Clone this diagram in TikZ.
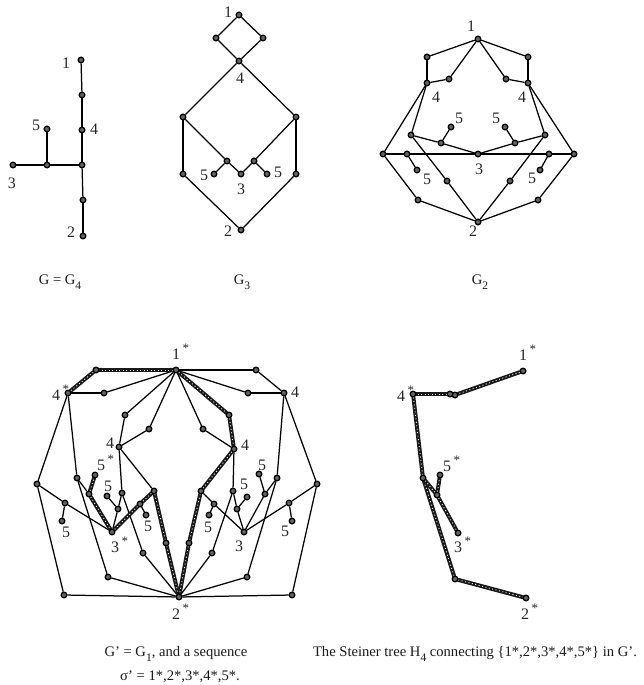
\documentclass[tikz,border=0pt]{standalone}
\usepackage{fontspec}
\setmainfont{Liberation Serif}
\usetikzlibrary{backgrounds}
\newcommand{\st}{\rlap{\raisebox{.42em}{\,\fontsize{13}{13}\selectfont *}}}
\newcommand{\sbs}[1]{\raisebox{-.32em}{\fontsize{11.5}{12}\selectfont #1}}
\tikzset{
  dot/.style={circle,draw=black,fill=black!60,line width=1.3pt,minimum size=5.6pt,inner sep=0pt},
  lab/.style={inner sep=0pt,font=\fontsize{16}{18}\selectfont,text=black!85},
  captxt/.style={inner sep=0pt,font=\fontsize{14.6}{17}\selectfont,text=black!90},
  edge/.style={draw=black,line width=1.25pt},
  heavy/.style={draw=black!90,line width=4pt,line cap=round,postaction={draw=white,line width=.8pt,dash pattern=on 1pt off 2.5pt,line cap=butt}}
}
\begin{document}
\begin{tikzpicture}[x=1pt,y=-1pt]
\useasboundingbox (0,0) rectangle (644,685);
% ---------- G4
\foreach \n/\x/\y in {a1/81/60,aa/82/95,a4/82/130,ac/82/165,ad/83/200,a2/83/236,a3/13/165,am/47/165,a5/47/129}
  \node[dot] (\n) at (\x,\y) {};
\begin{pgfonlayer}{background}
\foreach \p/\q in {a1/aa,aa/a4,a4/ac,ac/ad,ad/a2,a3/am,am/ac,am/a5}
  \draw[edge] (\p) -- (\q);
\end{pgfonlayer}
\foreach \n/\x/\y/\t in {la1/66/63/1,la4/94/129/4,la5/36/125/5,la3/12/183/3,la2/71/232/2}
  \node[lab] (\n) at (\x,\y) {\t};
\node[captxt] (capa) at (60,282) {G = G\sbs{4}};
% ---------- G3
\foreach \n/\x/\y in {b1/239/15,bl/216/38,br/263/38,b4/239/61,bL/183/117,bR/296/117,bp/183/174,bq/296/174,bs/227/161,bt/254/161,b3/241/174,bu/214/174,bv/267/174,b2/241/230}
  \node[dot] (\n) at (\x,\y) {};
\begin{pgfonlayer}{background}
\foreach \p/\q in {b1/bl,b1/br,bl/b4,br/b4,b4/bL,b4/bR,bL/bp,bR/bq,bL/bs,bR/bt,bs/b3,bt/b3,bs/bu,bt/bv,bp/b2,bq/b2}
  \draw[edge] (\p) -- (\q);
\end{pgfonlayer}
\foreach \n/\x/\y/\t in {lb1/228/12/1,lb4/240/78/4,lb5/204/175/5,lb3/241/189/3,lb6/278/172/5,lb2/228/231/2}
  \node[lab] (\n) at (\x,\y) {\t};
\node[captxt] (capb) at (242,282) {G\sbs{3}};
% ---------- G2
\foreach \n/\x/\y in {c1/478/39,cul/427/57,cur/528/57,cum/449/79,cun/506/79,cL/427/83,cR/528/83,ca/411/135,cb/545/135,cc/441/143,cd/515/143,cp/451/127,cq/505/127,c3/478/154,ce/383/154,cf/574/154,cg/407/154,ch/549/154,cr/417/170,cs/540/170,ci/447/181,cj/510/181,ck/418/200,cl/538/200,c2/478/222}
  \node[dot] (\n) at (\x,\y) {};
\begin{pgfonlayer}{background}
\foreach \p/\q in {c1/cul,cul/cL,c1/cum,cum/cL,c1/cun,cun/cR,c1/cur,cur/cR,cL/ca,cR/cb,cL/ce,cR/cf,ca/cc,cc/c3,c3/cd,cd/cb,cc/cp,cd/cq,ce/cg,cg/c3,c3/ch,ch/cf,cg/cr,ch/cs,ca/ci,ci/c2,cb/cj,cj/c2,ce/ck,ck/c2,cf/cl,cl/c2}
  \draw[edge] (\p) -- (\q);
\end{pgfonlayer}
\foreach \n/\x/\y/\t in {lc1/471/26/1,lc4/436/97/4,lc6/522/97/4,lc5/459/118/5,lc7/496/118/5,lc3/479/169/3,lc8/427/179/5,lc9/532/178/5,lc2/473/231/2}
  \node[lab] (\n) at (\x,\y) {\t};
\node[captxt] (capc) at (480,282) {G\sbs{2}};
% ---------- G'
\foreach \n/\x/\y in {g1/176/370,gA/96/370,gB/256/370,g4/68/393,gC/104/393,gD/248/393,gE/284/393,gF/125/415,gG/149/429,gH/203/429,gJ/229/415,gK/119/447,gM/234/449,gI/37/484,gN/317/484,gO/77/478,gL/277/478,gs/95/475,gP/89/494,gQ/65/503,gR/289/503,gu/62/521,gv/292/521,g3/112/532,gT/244/532,gU/122/493,gV/118/509,gw/107/496,gW/154/491,gS/201/491,gX/140/504,gx/146/515,gY/214/504,gy/209/515,gZ/233/491,gz/237/509,gq/247/497,gaa/265/494,gab/259/474,gac/143/553,gad/212/553,gae/166/543,gaf/189/543,gag/108/577,gah/247/577,gai/64/595,gaj/292/595,g2/179/597}
  \node[dot] (\n) at (\x,\y) {};
\begin{pgfonlayer}{background}
\foreach \p/\q in {g1/gC,gC/g4,g1/gB,gB/gE,g1/gD,gD/gE,g1/gF,gF/gK,g1/gG,gG/gK,g1/gH,gH/gM,g4/gI,gE/gN,g4/gO,gE/gL,gI/gQ,gQ/g3,gN/gR,gR/gT,gQ/gu,gR/gv,gO/gP,gL/gaa,gaa/gT,gaa/gab,gO/gag,gag/g2,gL/gah,gah/g2,gI/gai,gai/g2,gN/gaj,gaj/g2,gK/gU,gU/gV,gV/g3,gV/gw,gU/gac,gac/g2,gK/gW,gX/gx,gS/gY,gY/gT,gY/gy,gM/gZ,gZ/gz,gz/gT,gz/gq,gZ/gad,gad/g2}
  \draw[edge] (\p) -- (\q);
\foreach \p/\q in {g1/gA,gA/g4,g1/gJ,gJ/gM,gP/g3,gP/gs,gW/gX,gX/g3,gW/gae,gae/g2,gM/gS,gS/gaf,gaf/g2}
  \draw[heavy] (\p) -- (\q);
\end{pgfonlayer}
\foreach \n/\x/\y/\t in {lg1/176/352/1\st,lg4/56/393/4\st,lg6/295/392/4,lg7/110/443/4,lg8/245/445/4,lg5/101/463/5\st,lg9/108/486/5,lg10/66/532/5,lg11/148/526/5,lg12/208/527/5,lg13/244/484/5,lg14/262/465/5,lg15/285/531/5,lg3/115/545/3\st,lg16/239/546/3,lg2/176/612/2\st}
  \node[lab] (\n) at (\x,\y) {\t};
\node[captxt] (capd) at (176,654) {G' = G\sbs{1}, and a sequence};
\node[captxt] (cape) at (180,677) {σ' = 1*,2*,3*,4*,5*.};
% ---------- H4
\foreach \n/\x/\y in {h1/523/371,hm/455/395,hn/450/394,h4/413/394,hp/423/478,hr/437/495,h5/440/475,h3/458/533,hs/455/579,h2/526/598}
  \node[dot] (\n) at (\x,\y) {};
\begin{pgfonlayer}{background}
\foreach \p/\q in {h1/hm,hm/hn,hn/h4,h4/hp,hp/hs,hs/h2,hp/hr,hr/h3,hr/h5}
  \draw[heavy] (\p) -- (\q);
\end{pgfonlayer}
\foreach \n/\x/\y/\t in {lh1/523/353/1\st,lh4/401/394/4\st,lh5/447/464/5\st,lh3/458/545/3\st,lh2/525/612/2\st}
  \node[lab] (\n) at (\x,\y) {\t};
\node[captxt] (capf) at (475,654) {The Steiner tree H\sbs{4} connecting \{1*,2*,3*,4*,5*\} in G'.};
\end{tikzpicture}
\end{document}
